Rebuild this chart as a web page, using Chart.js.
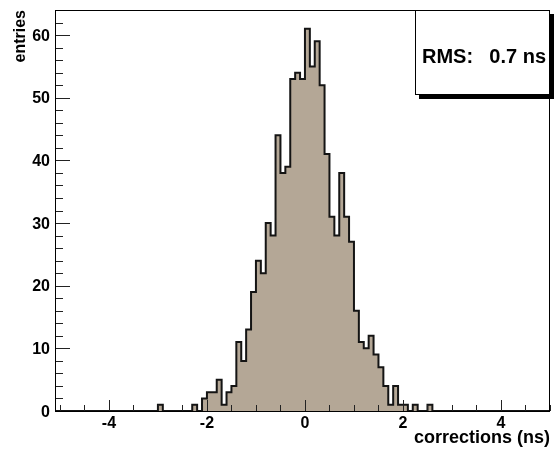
<!DOCTYPE html>
<html><head><meta charset="utf-8">
<script src="https://cdn.jsdelivr.net/npm/chart.js@4/dist/chart.umd.min.js"></script>
<style>html,body{margin:0;padding:0;background:#fff;}#wrap{width:554px;height:449px;position:relative;}</style>
</head><body><div id="wrap"><canvas id="c" width="554" height="449"></canvas></div>
<script>
// Low edges (ns) of the non-empty 0.1 ns bins and their entries
const binLowEdges = [-3.0,-2.3,-2.1,-2.0,-1.9,-1.8,-1.7,-1.6,-1.5,-1.4,-1.3,-1.2,-1.1,-1.0,-0.9,-0.8,-0.7,-0.6,-0.5,-0.4,-0.3,-0.2,-0.1,
  0.0,0.1,0.2,0.3,0.4,0.5,0.6,0.7,0.8,0.9,1.0,1.1,1.2,1.3,1.4,1.5,1.6,1.7,1.8,1.9,2.0,2.2,2.5];
const entries = [1,1,2,3,3,5,1,3,4,11,8,13,19,24,22,30,28,44,38,39,53,54,53,
  61,55,59,52,41,31,28,38,31,27,16,11,10,12,9,7,4,1,4,1,1,1,1];
const histMin = -5.1, histMax = 5.0, binWidth = 0.1;
const xTickLabels = [-4,-2,0,2,4];
const yTickLabels = [0,10,20,30,40,50,60];
const yMax = 64;
const xTitle = 'corrections (ns)';
const yTitle = 'entries';
const statsText = ['RMS:', '0.7 ns'];

// histogram table: one point per bin low edge (stepped), empty bins at 0
const lookup = {};
binLowEdges.forEach((e, i) => { lookup[e.toFixed(1)] = entries[i]; });
const points = [];
const nBins = Math.round((histMax - histMin) / binWidth);
for (let i = 0; i < nBins; i++) {
  const e = +(histMin + i * binWidth).toFixed(1);
  points.push({x: e, y: lookup[e.toFixed(1)] || 0});
}
points.push({x: histMax, y: 0});

const FONT = '"Liberation Sans", Arial, Helvetica, sans-serif';

const framePlugin = {
  id: 'frame',
  afterDatasetsDraw(chart) {
    const {ctx, chartArea: a, scales: {x, y}} = chart;
    ctx.save();
    ctx.strokeStyle = '#222';
    ctx.lineWidth = 1;
    ctx.beginPath();
    // x ticks (inside, pointing up)
    for (let v = -5; v <= 5.001; v += 0.5) {
      const px = Math.round(x.getPixelForValue(v)) + 0.5;
      const major = Math.abs(v / 2 - Math.round(v / 2)) < 1e-6;
      const len = major ? 11 : 6;
      ctx.moveTo(px, a.bottom); ctx.lineTo(px, a.bottom - len);
    }
    // y ticks (inside, pointing right)
    for (let v = 0; v <= yMax; v += 2) {
      const py = Math.round(y.getPixelForValue(v)) + 0.5;
      const len = v % 10 === 0 ? 15 : 8;
      ctx.moveTo(a.left, py); ctx.lineTo(a.left + len, py);
    }
    ctx.stroke();
    ctx.strokeStyle = '#000';
    ctx.strokeRect(Math.round(a.left) + 0.5, Math.round(a.top) + 0.5, Math.round(a.right - a.left) - 1, Math.round(a.bottom - a.top));

    // tick labels
    ctx.fillStyle = '#000';
    ctx.font = 'bold 16px ' + FONT;
    ctx.textBaseline = 'alphabetic';
    ctx.textAlign = 'center';
    xTickLabels.forEach(v => {
      ctx.fillText(String(v), x.getPixelForValue(v), a.bottom + 16.5);
    });
    ctx.textAlign = 'right';
    yTickLabels.forEach(v => {
      ctx.fillText(String(v), a.left - 5, y.getPixelForValue(v) + 5.7);
    });
    ctx.restore();
  },
  afterDraw(chart) {
    const {ctx, chartArea: a} = chart;
    const bx = 415, by = Math.round(a.top), bw = Math.round(a.right) - 415, bh = 85;
    ctx.save();
    ctx.fillStyle = '#000';
    ctx.fillRect(bx + 4, by + 4, bw, bh);
    ctx.fillStyle = '#fff';
    ctx.fillRect(bx, by, bw, bh);
    ctx.strokeStyle = '#000';
    ctx.lineWidth = 1;
    ctx.strokeRect(bx + 0.5, by + 0.5, bw - 1, bh - 1);
    ctx.fillStyle = '#000';
    ctx.font = 'bold 20px ' + FONT;
    ctx.textBaseline = 'middle';
    ctx.textAlign = 'left';
    ctx.fillText(statsText[0], 422, by + 47);
    ctx.textAlign = 'right';
    ctx.fillText(statsText[1], 546, by + 47);
    ctx.restore();
  }
};

new Chart(document.getElementById('c'), {
  type: 'line',
  data: { datasets: [{
    data: points,
    stepped: 'before',
    fill: 'origin',
    backgroundColor: '#b4a796',
    borderColor: '#141414',
    borderWidth: 2,
    pointRadius: 0,
    tension: 0
  }]},
  options: {
    responsive: false,
    animation: false,
    events: [],
    layout: { padding: { left: 0, right: 4, top: 10, bottom: 0 } },
    plugins: { legend: { display: false }, tooltip: { enabled: false } },
    scales: {
      x: {
        type: 'linear', min: histMin, max: histMax,
        grid: { display: false }, border: { display: false },
        afterBuildTicks: s => { s.ticks = xTickLabels.map(v => ({ value: v })); },
        afterFit: s => { s.height = 38; },
        ticks: { display: false },
        title: { display: true, text: xTitle, align: 'end', color: '#000',
          font: { family: FONT, weight: 'bold', size: 18 }, padding: { top: 0, bottom: 0 } }
      },
      y: {
        type: 'linear', min: 0, max: yMax,
        grid: { display: false }, border: { display: false },
        afterBuildTicks: s => { s.ticks = yTickLabels.map(v => ({ value: v })); },
        afterFit: s => { s.width = 55; },
        ticks: { display: false },
        title: { display: true, text: yTitle, align: 'end', color: '#000',
          font: { family: FONT, weight: 'bold', size: 16 }, padding: { top: 11, bottom: 0 } }
      }
    }
  },
  plugins: [framePlugin]
});
</script>
</body></html>
